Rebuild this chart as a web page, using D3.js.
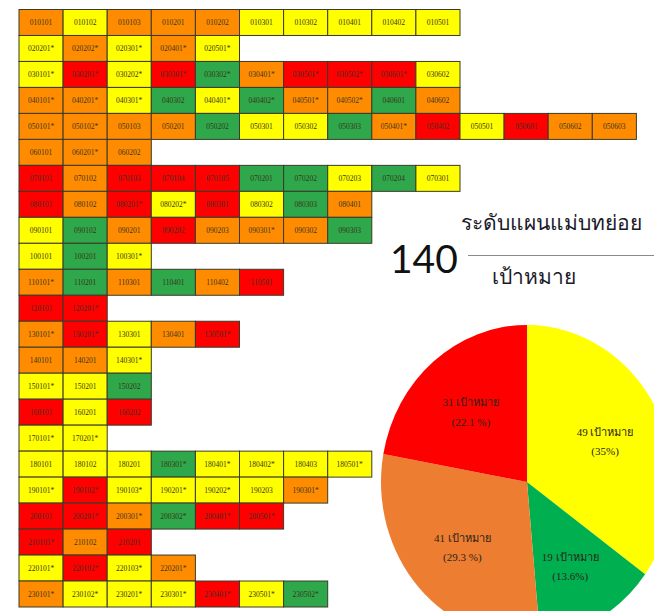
<!DOCTYPE html>
<html>
<head>
<meta charset="utf-8">
<script src="https://cdn.jsdelivr.net/npm/d3@7"></script>
<style>
  html, body { margin: 0; padding: 0; background: #fff; }
  svg { display: block; }
</style>
</head>
<body>
<svg id="chart" width="654" height="611"></svg>
<script>
// Target codes, one array per master-plan row
const rowCodes = [
  ["010101","010102","010103","010201","010202","010301","010302","010401","010402","010501"],
  ["020201*","020202*","020301*","020401*","020501*"],
  ["030101*","030201*","030202*","030301*","030302*","030401*","030501*","030502*","030601*","030602"],
  ["040101*","040201*","040301*","040302","040401*","040402*","040501*","040502*","040601","040602"],
  ["050101*","050102*","050103","050201","050202","050301","050302","050303","050401*","050402","050501","050601","050602","050603"],
  ["060101","060201*","060202"],
  ["070101","070102","070103","070104","070105","070201","070202","070203","070204","070301"],
  ["080101","080102","080201*","080202*","080301","080302","080303","080401"],
  ["090101","090102","090201","090202","090203","090301*","090302","090303"],
  ["100101","100201","100301*"],
  ["110101*","110201","110301","110401","110402","110501"],
  ["120101","120201*"],
  ["130101*","130201*","130301","130401","130501*"],
  ["140101","140201","140301*"],
  ["150101*","150201","150202"],
  ["160101","160201","160202"],
  ["170101*","170201*"],
  ["180101","180102","180201","180301*","180401*","180402*","180403","180501*"],
  ["190101*","190102*","190103*","190201*","190202*","190203","190301*"],
  ["200101","200201*","200301*","200302*","200401*","200501*"],
  ["210101*","210102","210201"],
  ["220101*","220102*","220103*","220201*"],
  ["230101*","230102*","230201*","230301*","230401*","230501*","230502*"]
];

// Status of each target, same order (Y = yellow, G = green, O = orange, R = red)
const rowStatus = [
  "OYOOOYYYYY",
  "YOYOY",
  "YRYRGORRRY",
  "OOYGYGOOGO",
  "OOOOGYYGORYROO",
  "OOO",
  "RORRRGGYGY",
  "RORYRYGO",
  "YGOROOOG",
  "YGY",
  "OGOGOR",
  "RR",
  "ORYOR",
  "OOY",
  "YYG",
  "RYR",
  "YY",
  "YYYGYYYY",
  "YRYYYYO",
  "RROGRR",
  "ROR",
  "YRYO",
  "OYYYRYG"
];

// Summary pie
const pieStatus = ["Y", "G", "O", "R"];
const pieCounts = [49, 19, 41, 31];
const piePctLabels = ["(35%)", "(13.6%)", "(29.3 %)", "(22.1 %)"];
const totalTargets = 140;
const titleText = "ระดับแผนแม่บทย่อย";
const unitText = "เป้าหมาย";

const cellColor = { Y: "#FFFF00", G: "#2EA84A", O: "#FF8C00", R: "#FF0000" };
const sliceColor = { Y: "#FFFF00", G: "#00B050", O: "#ED7D31", R: "#FF0000" };

const svg = d3.select("#chart");

// ---- grid of targets ----
const maxCols = d3.max(rowCodes, r => r.length);
const x = d3.scaleBand().domain(d3.range(maxCols)).range([19, 19 + maxCols * 44.1]);
const y = d3.scaleBand().domain(d3.range(rowCodes.length)).range([9.5, 607]);

const cells = rowCodes.flatMap((codes, ri) =>
  codes.map((code, ci) => ({ code, row: ri, col: ci, status: rowStatus[ri][ci] })));

const grid = svg.append("g").attr("class", "grid");

const cell = grid.selectAll("g.cell").data(cells).join("g")
  .attr("class", "cell")
  .attr("transform", d => `translate(${x(d.col)},${y(d.row)})`);

cell.append("rect")
  .attr("width", x.bandwidth())
  .attr("height", y.bandwidth())
  .attr("fill", d => cellColor[d.status])
  .attr("stroke", "#3a3a2a")
  .attr("stroke-width", 1);

cell.append("text")
  .attr("x", x.bandwidth() / 2)
  .attr("y", y.bandwidth() / 2)
  .attr("dy", "0.35em")
  .attr("text-anchor", "middle")
  .attr("font-family", "'Liberation Serif', serif")
  .attr("font-size", 7.5)
  .attr("fill", "#3b3320")
  .text(d => d.code);

// ---- title block ----
svg.append("text")
  .attr("x", 461).attr("y", 230)
  .attr("font-family", "'Noto Sans', sans-serif")
  .attr("font-size", 21)
  .attr("fill", "#1a1a2a")
  .text(titleText);

svg.append("text")
  .attr("x", 390).attr("y", 273)
  .attr("font-family", "Lato, 'Open Sans', sans-serif")
  .attr("font-size", 39)
  .attr("fill", "#111")
  .text(totalTargets);

svg.append("line")
  .attr("x1", 468).attr("x2", 654)
  .attr("y1", 255.5).attr("y2", 255.5)
  .attr("stroke", "#8a8a8a").attr("stroke-width", 1);

svg.append("text")
  .attr("x", 492).attr("y", 284)
  .attr("font-family", "'Noto Sans', sans-serif")
  .attr("font-size", 21)
  .attr("fill", "#1a1a2a")
  .text(unitText);

// ---- pie ----
const cx = 527, cy = 482, rx = 146, ry = 157;
const pieData = d3.pie().sort(null).value(d => d.count)(
  pieStatus.map((s, i) => ({ status: s, count: pieCounts[i], pct: piePctLabels[i] })));

const arc = d3.arc().innerRadius(0).outerRadius(rx);
const labelArc = d3.arc().innerRadius(rx * 0.6).outerRadius(rx * 0.6);

svg.append("g")
  .attr("transform", `translate(${cx},${cy}) scale(1,${ry / rx})`)
  .selectAll("path").data(pieData).join("path")
  .attr("d", arc)
  .attr("fill", d => sliceColor[d.data.status]);

const lab = svg.append("g").selectAll("text").data(pieData).join("text")
  .attr("transform", d => {
    const [px, py] = labelArc.centroid(d);
    return `translate(${cx + px},${cy + py * ry / rx})`;
  })
  .attr("text-anchor", "middle")
  .attr("font-family", "'Liberation Serif', serif")
  .attr("font-size", 11)
  .attr("fill", "#2a2418");

lab.append("tspan").attr("x", 0).attr("dy", "-0.3em")
  .text(d => `${d.data.count} ${unitText}`);
lab.append("tspan").attr("x", 0).attr("dy", "1.75em")
  .text(d => d.data.pct);
</script>
</body>
</html>
